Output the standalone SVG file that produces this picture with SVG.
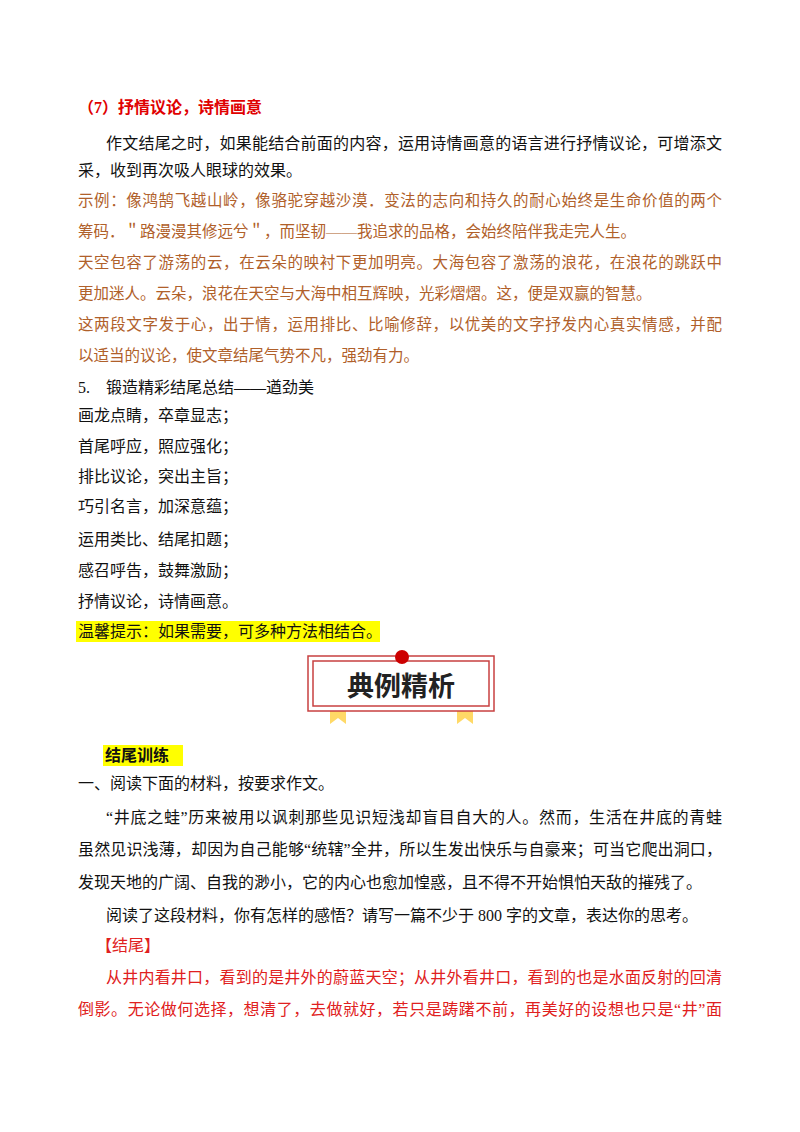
<svg xmlns="http://www.w3.org/2000/svg" width="800" height="1132" viewBox="0 0 800 1132">
<style>
text{font-family:"Liberation Serif","Noto Sans CJK SC",serif;font-size:16px;fill:#111}
.r{fill:#e00000;font-weight:bold}
.b{fill:#b0602a;font-size:15.5px}
.rr{fill:#e02020}
.hl{fill:#ffff00}
</style>
<rect width="800" height="1132" fill="#fff"/>
<g id="sec7">
<text class="r" x="78" y="113">（7）抒情议论，诗情画意</text>
<text x="106" y="149" textLength="616" lengthAdjust="spacing">作文结尾之时，如果能结合前面的内容，运用诗情画意的语言进行抒情议论，可增添文</text>
<text x="78" y="176">采，收到再次吸人眼球的效果。</text>
<text class="b" x="78" y="206" textLength="644" lengthAdjust="spacing">示例：像鸿鹄飞越山岭，像骆驼穿越沙漠．变法的志向和持久的耐心始终是生命价值的两个</text>
<text class="b" x="78" y="237">筹码．＂路漫漫其修远兮＂，而坚韧——我追求的品格，会始终陪伴我走完人生。</text>
<text class="b" x="78" y="268" textLength="644" lengthAdjust="spacing">天空包容了游荡的云，在云朵的映衬下更加明亮。大海包容了激荡的浪花，在浪花的跳跃中</text>
<text class="b" x="78" y="299">更加迷人。云朵，浪花在天空与大海中相互辉映，光彩熠熠。这，便是双赢的智慧。</text>
<text class="b" x="78" y="330" textLength="644" lengthAdjust="spacing">这两段文字发于心，出于情，运用排比、比喻修辞，以优美的文字抒发内心真实情感，并配</text>
<text class="b" x="78" y="361">以适当的议论，使文章结尾气势不凡，强劲有力。</text>
</g>
<g id="summary">
<text x="78" y="393">5.　锻造精彩结尾总结——遒劲美</text>
<text x="78" y="421">画龙点睛，卒章显志；</text>
<text x="78" y="452">首尾呼应，照应强化；</text>
<text x="78" y="482">排比议论，突出主旨；</text>
<text x="78" y="512">巧引名言，加深意蕴；</text>
<text x="78" y="545">运用类比、结尾扣题；</text>
<text x="78" y="576">感召呼告，鼓舞激励；</text>
<text x="78" y="607">抒情议论，诗情画意。</text>
<rect class="hl" x="76" y="621" width="304" height="21"/>
<text x="78" y="637">温馨提示：如果需要，可多种方法相结合。</text>
</g>
<g id="banner">
<polygon points="330,706 346,706 346,724 338,718 330,724" fill="#ffd966"/>
<polygon points="457,706 473,706 473,724 465,718 457,724" fill="#ffd966"/>
<rect x="308" y="656" width="186" height="55" fill="#fff" stroke="#c84040" stroke-width="1.5"/>
<rect x="313" y="661" width="176" height="45" fill="#fff" stroke="#c84040" stroke-width="1.5"/>
<circle cx="402" cy="657" r="7" fill="#cc0000"/>
<text x="401" y="696" text-anchor="middle" style="font-family:'Noto Sans CJK SC',sans-serif;font-size:27px;font-weight:bold;fill:#222">典例精析</text>
</g>
<g id="training">
<rect class="hl" x="103" y="745" width="80" height="21"/>
<text x="105" y="761" style="font-weight:bold">结尾训练</text>
<text x="78" y="789">一、阅读下面的材料，按要求作文。</text>
<text x="106" y="823" textLength="616" lengthAdjust="spacing">“井底之蛙”历来被用以讽刺那些见识短浅却盲目自大的人。然而，生活在井底的青蛙</text>
<text x="78" y="855" textLength="644" lengthAdjust="spacing">虽然见识浅薄，却因为自己能够“统辖”全井，所以生发出快乐与自豪来；可当它爬出洞口，</text>
<text x="78" y="888">发现天地的广阔、自我的渺小，它的内心也愈加惶惑，且不得不开始惧怕天敌的摧残了。</text>
<text x="106" y="921">阅读了这段材料，你有怎样的感悟？请写一篇不少于 800 字的文章，表达你的思考。</text>
<text class="rr" x="96" y="951">【结尾】</text>
<text class="rr" x="106" y="983" textLength="616" lengthAdjust="spacing">从井内看井口，看到的是井外的蔚蓝天空；从井外看井口，看到的也是水面反射的回清</text>
<text class="rr" x="78" y="1015" textLength="644" lengthAdjust="spacing">倒影。无论做何选择，想清了，去做就好，若只是踌躇不前，再美好的设想也只是“井”面</text>
</g>
</svg>
